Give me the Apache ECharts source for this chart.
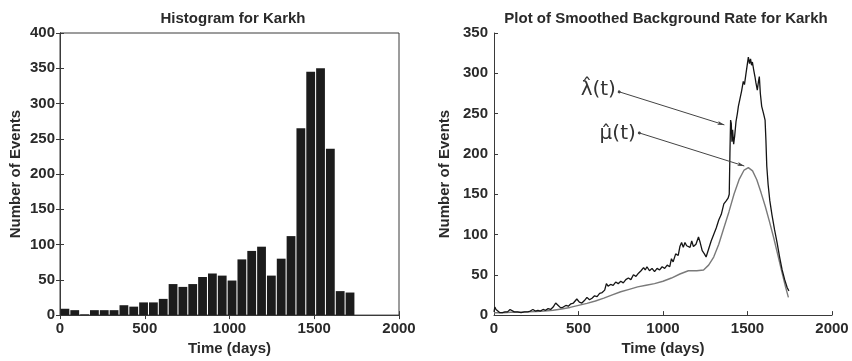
<!DOCTYPE html>
<html>
<head>
<meta charset="UTF-8">
<title>Karkh</title>
<script src="https://cdn.jsdelivr.net/npm/echarts@6/dist/echarts.min.js"></script>
</head>
<body style="margin:0;background:#fff">
<div id="main" style="width:852px;height:361px;"></div>
<script type="text/javascript">
// histogram bins (days) and counts
var binCenters = [29, 87, 145, 203, 261, 319, 377, 435, 493, 551, 609, 667, 725, 783, 841,
  899, 957, 1015, 1073, 1131, 1189, 1247, 1305, 1363, 1421, 1479, 1537, 1595, 1653, 1711];
var binCounts = [9, 7, 1, 7, 7, 7, 14, 12, 18, 18, 23, 44, 40, 44, 54,
  59, 56, 49, 79, 91, 97, 56, 80, 112, 265, 345, 350, 236, 34, 32];

// lambda hat (t), noisy black curve
var lambdaDays = [0, 5, 12, 20, 35, 50, 65, 80, 95, 105, 120, 140, 160, 180, 200, 215, 230, 245, 260, 275,
  290, 305, 320, 335, 350, 365, 380, 395, 410, 425, 440, 455, 470, 490, 505, 520, 535, 550, 565, 580,
  595, 610, 625, 640, 655, 665, 675, 690, 705, 720, 735, 750, 765, 780, 795, 810, 825, 840, 855, 870,
  885, 895, 905, 920, 935, 950, 965, 980, 995, 1010, 1025, 1040, 1050, 1060, 1075, 1090, 1100, 1110, 1120, 1130,
  1140, 1150, 1160, 1170, 1180, 1195, 1210, 1220, 1232, 1245, 1255, 1270, 1285, 1300, 1315, 1330, 1345, 1360, 1375, 1385,
  1392, 1396, 1400, 1404, 1408, 1412, 1418, 1424, 1432, 1440, 1446, 1455, 1465, 1475, 1482, 1490, 1497, 1505, 1512, 1518,
  1524, 1529, 1536, 1544, 1550, 1558, 1565, 1570, 1576, 1584, 1595, 1604, 1609, 1614, 1622, 1632, 1645, 1660, 1675, 1690,
  1705, 1720, 1735, 1745];
var lambdaVals = [4, 10, 7, 5, 3, 3, 4, 4, 7, 6, 4, 4, 3, 4, 4, 5, 7, 5, 6, 5,
  7, 6, 8, 7, 10, 15, 12, 9, 10, 12, 11, 14, 15, 20, 16, 15, 18, 22, 19, 21,
  24, 23, 27, 28, 31, 39, 36, 38, 37, 41, 39, 42, 40, 44, 46, 44, 50, 48, 52, 55,
  59, 56, 60, 55, 58, 54, 58, 56, 60, 58, 62, 60, 70, 66, 76, 74, 85, 90, 84, 90,
  86, 88, 84, 92, 85, 88, 97, 90, 80, 76, 72, 82, 92, 100, 108, 118, 125, 138, 142, 145,
  150, 200, 242, 238, 215, 230, 212, 222, 240, 250, 259, 268, 278, 290, 286, 298, 300, 320, 312, 318,
  310, 314, 305, 296, 288, 279, 290, 296, 275, 259, 250, 242, 217, 185, 162, 142, 124, 106, 90, 72,
  56, 44, 34, 30];

// mu hat (t), smooth grey curve
var muDays = [0, 50, 100, 150, 200, 250, 300, 350, 400, 450, 500, 550, 600, 650, 700, 750, 800, 850, 900, 950,
  1000, 1050, 1100, 1150, 1200, 1240, 1270, 1300, 1330, 1360, 1390, 1420, 1450, 1480, 1505, 1530, 1555, 1580, 1605, 1630,
  1655, 1680, 1705, 1725, 1742];
var muVals = [3, 3, 3.5, 3.5, 4, 4.5, 5, 6, 7.5, 9.5, 12, 14.5, 17.5, 21, 25, 29, 32, 35, 37, 39,
  42, 46, 51, 55, 55, 56, 62, 72, 88, 108, 128, 150, 168, 180, 183, 179, 168, 152, 135, 116,
  96, 74, 52, 35, 22];

var xTicks = [0, 2000, 500];
var histY = [0, 400, 50];
var rateY = [0, 350, 50];

function pairs(xs, ys) {
  var out = [];
  for (var i = 0; i < xs.length; i++) out.push([xs[i], ys[i]]);
  return out;
}

var txt = '#2a2a2a';
var ax = '#3a3a3a';
var font = 'Liberation Sans, Arial, Helvetica, sans-serif';

function label(margin, show) {
  return { show: show !== false, color: txt, fontSize: 15, fontWeight: 'bold', fontFamily: font, margin: margin,
    formatter: function (v) { return String(v); } };
}

function valueAxis(extra) {
  var base = {
    type: 'value',
    axisLine: { show: true, lineStyle: { color: ax, width: 1 } },
    axisTick: { show: true, inside: true, length: 4, lineStyle: { color: ax } },
    splitLine: { show: false },
    axisLabel: label(6),
    nameTextStyle: { color: txt, fontSize: 15, fontWeight: 'bold', fontFamily: font },
    nameLocation: 'middle'
  };
  for (var k in extra) base[k] = extra[k];
  return base;
}

var myChart = echarts.init(document.getElementById('main'));

var option = {
  backgroundColor: '#fff',
  animation: false,
  title: [
    { text: 'Histogram for Karkh', left: 228, top: 6, textAlign: 'center',
      textStyle: { color: txt, fontSize: 15, fontWeight: 'bold', fontFamily: font } },
    { text: 'Plot of Smoothed Background Rate for Karkh', left: 661, top: 6, textAlign: 'center',
      textStyle: { color: txt, fontSize: 15, fontWeight: 'bold', fontFamily: font } }
  ],
  grid: [
    { left: 60, top: 33, width: 339, height: 284, show: true, borderColor: ax, borderWidth: 1, backgroundColor: 'transparent' },
    { left: 494, top: 33, width: 338, height: 283 }
  ],
  xAxis: [
    valueAxis({ gridIndex: 0, min: xTicks[0], max: xTicks[1], interval: xTicks[2],
      name: 'Time (days)', nameGap: 23, axisLabel: label(6) }),
    valueAxis({ gridIndex: 0, position: 'top', min: xTicks[0], max: xTicks[1], interval: xTicks[2],
      axisLabel: label(6, false) }),
    valueAxis({ gridIndex: 1, min: xTicks[0], max: xTicks[1], interval: xTicks[2],
      name: 'Time (days)', nameGap: 24, axisLabel: label(6) })
  ],
  yAxis: [
    valueAxis({ gridIndex: 0, min: histY[0], max: histY[1], interval: histY[2],
      name: 'Number of Events', nameGap: 37, axisLabel: label(5) }),
    valueAxis({ gridIndex: 0, position: 'right', min: histY[0], max: histY[1], interval: histY[2],
      axisLabel: label(5, false) }),
    valueAxis({ gridIndex: 1, min: rateY[0], max: rateY[1], interval: rateY[2],
      name: 'Number of Events', nameGap: 42, axisLabel: label(6) })
  ],
  series: [
    {
      type: 'bar',
      xAxisIndex: 0,
      yAxisIndex: 0,
      barWidth: 8.8,
      itemStyle: { color: '#1c1c1c' },
      data: pairs(binCenters, binCounts)
    },
    {
      // empty series so the box axes (top / right) get drawn with their ticks
      type: 'line',
      xAxisIndex: 1,
      yAxisIndex: 1,
      symbol: 'none',
      data: []
    },
    {
      type: 'line',
      name: 'mu',
      xAxisIndex: 2,
      yAxisIndex: 2,
      symbol: 'none',
      lineStyle: { color: '#7a7a7a', width: 1.4 },
      data: pairs(muDays, muVals),
      markLine: {
        silent: true,
        symbol: ['circle', 'arrow'],
        symbolSize: [3, 7],
        label: { show: false },
        lineStyle: { color: '#444', width: 1, type: 'solid' },
        data: [
          [{ coord: [741, 277] }, { coord: [1363, 236] }],
          [{ coord: [860, 226] }, { coord: [1481, 185] }]
        ]
      },
      markPoint: {
        silent: true,
        symbol: 'circle',
        symbolSize: 0,
        label: { show: true, color: '#333', fontSize: 20, fontFamily: 'DejaVu Sans, sans-serif', position: 'inside' },
        data: [
          { coord: [617, 279], value: 'λ\u0302(t)', label: { formatter: 'λ\u0302(t)' } },
          { coord: [732, 225], value: 'μ\u0302(t)', label: { formatter: 'μ\u0302(t)' } }
        ]
      }
    },
    {
      type: 'line',
      name: 'lambda',
      xAxisIndex: 2,
      yAxisIndex: 2,
      symbol: 'none',
      lineStyle: { color: '#151515', width: 1.3 },
      data: pairs(lambdaDays, lambdaVals)
    }
  ]
};
myChart.setOption(option);
</script>
</body>
</html>
